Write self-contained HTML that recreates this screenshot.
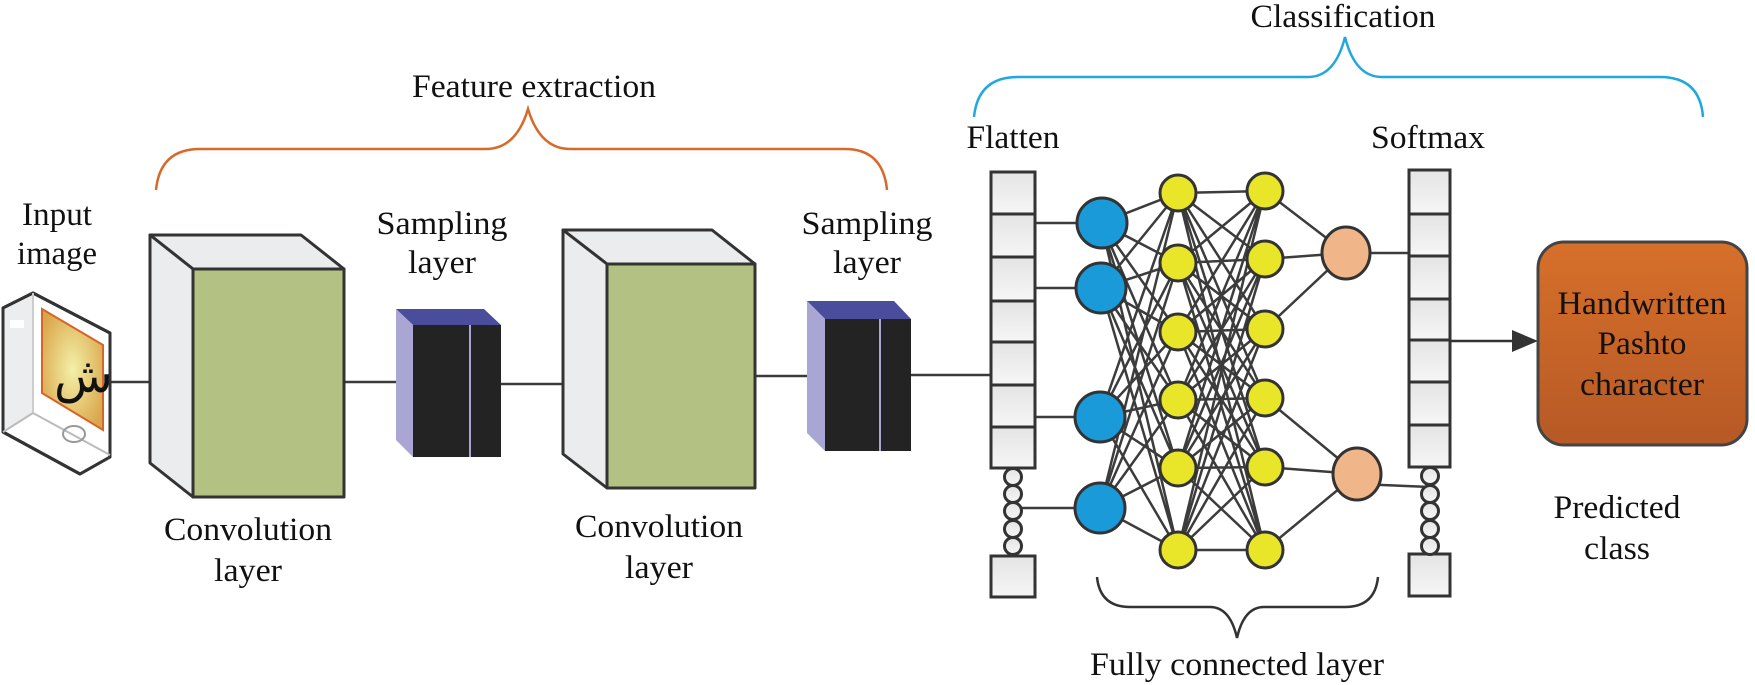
<!DOCTYPE html>
<html><head><meta charset="utf-8"><style>
html,body{margin:0;padding:0;background:#fff;}
svg{display:block;}
text{font-family:"Liberation Serif",serif;font-size:33px;fill:#111;}
</style></head><body>
<svg width="1755" height="685" viewBox="0 0 1755 685" xmlns="http://www.w3.org/2000/svg">
<defs>
<radialGradient id="pan" cx="0.5" cy="0.5" r="0.6"><stop offset="0" stop-color="#f4f0a8"/><stop offset="1" stop-color="#d9a64a"/></radialGradient>
<linearGradient id="box" x1="0" y1="0" x2="0" y2="1"><stop offset="0" stop-color="#d6702a"/><stop offset="1" stop-color="#b75926"/></linearGradient>
<linearGradient id="cell" x1="0" y1="0" x2="0" y2="1"><stop offset="0" stop-color="#e4e4e4"/><stop offset="1" stop-color="#f6f6f6"/></linearGradient>
</defs>
<g stroke="#3a3a3a" stroke-width="2.5" fill="none">
<line x1="110" y1="382" x2="150" y2="382"/>
<line x1="344" y1="382" x2="404" y2="382"/>
<line x1="494" y1="384" x2="563" y2="384"/>
<line x1="755" y1="376" x2="815" y2="376"/>
<line x1="911" y1="375" x2="991" y2="375"/>
</g>
<g stroke="#333" stroke-width="3" stroke-linejoin="round">
<polygon points="3,308 33,293 110,333 110,457 80,474 3,432" fill="#fff"/>
<polygon points="3,308 33,293 33,413 3,432" fill="#ecedef" stroke-width="0"/>
<polygon points="3,308 33,293 110,333 110,457 80,474 3,432" fill="none"/>
</g>
<line x1="33" y1="293" x2="33" y2="413" stroke="#ccc" stroke-width="2"/>
<line x1="33" y1="413" x2="110" y2="455" stroke="#bbb" stroke-width="2"/>
<line x1="33" y1="413" x2="3" y2="432" stroke="#bbb" stroke-width="2"/>
<rect x="10" y="320" width="14" height="8" fill="#fff" opacity=".9"/>
<polygon points="42,309 103,345 103,430 42,393" fill="url(#pan)" stroke="#d8642a" stroke-width="2"/>
<text x="54" y="392" style="font-size:48px;font-family:'DejaVu Serif','DejaVu Sans',serif">ش</text>
<ellipse cx="74" cy="434" rx="11" ry="8" fill="none" stroke="#999" stroke-width="2"/>
<g stroke="#333" stroke-width="3" stroke-linejoin="round">
<polygon points="150,235 301,235 344,269 193,269" fill="#ebecee"/>
<polygon points="150,235 193,269 193,497 150,463" fill="#ebecee"/>
<rect x="193" y="269" width="151" height="228" fill="#b3c283"/>
</g>
<polygon points="396,309 484,309 501,325 413,325" fill="#4a4c9c"/>
<polygon points="396,309 413,325 413,457 396,440" fill="#aaa6d4"/>
<rect x="413" y="325" width="88" height="132" fill="#232323"/>
<line x1="470" y1="325" x2="470" y2="457" stroke="#a9a5d6" stroke-width="2"/>
<g stroke="#333" stroke-width="3" stroke-linejoin="round">
<polygon points="563,230 712,230 755,264 607,264" fill="#ebecee"/>
<polygon points="563,230 607,264 607,488 563,454" fill="#ebecee"/>
<rect x="607" y="264" width="148" height="224" fill="#b3c283"/>
</g>
<polygon points="807,301 894,301 911,319 825,319" fill="#4a4c9c"/>
<polygon points="807,301 825,319 825,451 807,433" fill="#aaa6d4"/>
<rect x="825" y="319" width="86" height="132" fill="#232323"/>
<line x1="880" y1="319" x2="880" y2="451" stroke="#a9a5d6" stroke-width="2"/>
<path d="M156,190 Q160,149 200,149 L486,149 Q516,149 528,109 Q540,149 570,149 L845,149 Q883,149 887,190" fill="none" stroke="#d8692a" stroke-width="2.5"/>
<path d="M974,117 Q978,77 1018,77 L1308,77 Q1335,77 1345,37 Q1355,77 1382,77 L1660,77 Q1700,77 1703,117" fill="none" stroke="#1ea7e0" stroke-width="2.5"/>
<path d="M1097,577 Q1100,607 1130,607 L1210,607 Q1230,607 1237,638 Q1244,607 1264,607 L1345,607 Q1375,607 1378,577" fill="none" stroke="#333" stroke-width="2.5"/>
<g stroke="#3c3c3c" stroke-width="2.5">
<line x1="1035" y1="223" x2="1100" y2="223"/>
<line x1="1035" y1="288" x2="1100" y2="288"/>
<line x1="1035" y1="417" x2="1100" y2="417"/>
<line x1="1022" y1="508" x2="1100" y2="508"/>
<path d="M1101,223 L1178,193 M1101,223 L1178,263 M1101,223 L1178,332 M1101,223 L1178,400 M1101,223 L1178,468 M1101,223 L1178,550
M1101,288 L1178,193 M1101,288 L1178,263 M1101,288 L1178,332 M1101,288 L1178,400 M1101,288 L1178,468 M1101,288 L1178,550
M1100,417 L1178,193 M1100,417 L1178,263 M1100,417 L1178,332 M1100,417 L1178,400 M1100,417 L1178,468 M1100,417 L1178,550
M1100,508 L1178,193 M1100,508 L1178,263 M1100,508 L1178,332 M1100,508 L1178,400 M1100,508 L1178,468 M1100,508 L1178,550"/>
<path d="M1178,193 L1265,191 M1178,193 L1265,259 M1178,193 L1265,329 M1178,193 L1265,398 M1178,193 L1265,467 M1178,193 L1265,550
M1178,263 L1265,191 M1178,263 L1265,259 M1178,263 L1265,329 M1178,263 L1265,398 M1178,263 L1265,467 M1178,263 L1265,550
M1178,332 L1265,191 M1178,332 L1265,259 M1178,332 L1265,329 M1178,332 L1265,398 M1178,332 L1265,467 M1178,332 L1265,550
M1178,400 L1265,191 M1178,400 L1265,259 M1178,400 L1265,329 M1178,400 L1265,398 M1178,400 L1265,467 M1178,400 L1265,550
M1178,468 L1265,191 M1178,468 L1265,259 M1178,468 L1265,329 M1178,468 L1265,398 M1178,468 L1265,467 M1178,468 L1265,550
M1178,550 L1265,191 M1178,550 L1265,259 M1178,550 L1265,329 M1178,550 L1265,398 M1178,550 L1265,467 M1178,550 L1265,550"/>
<path d="M1265,191 L1346,253 M1265,259 L1346,253 M1265,329 L1346,253 M1265,398 L1357,474 M1265,467 L1357,474 M1265,550 L1357,474"/>
<line x1="1346" y1="253" x2="1409" y2="253"/>
<line x1="1357" y1="484" x2="1430" y2="487"/>
</g>
<g fill="#1a9ad8" stroke="#333" stroke-width="3">
<circle cx="1102" cy="223" r="25"/><circle cx="1101" cy="288" r="25"/><circle cx="1100" cy="417" r="25"/><circle cx="1100" cy="508" r="25"/>
</g>
<g fill="#e9e62a" stroke="#333" stroke-width="3">
<circle cx="1178" cy="193" r="18"/><circle cx="1178" cy="263" r="18"/><circle cx="1178" cy="332" r="18"/><circle cx="1178" cy="400" r="18"/><circle cx="1178" cy="468" r="18"/><circle cx="1178" cy="550" r="18"/>
<circle cx="1265" cy="191" r="18"/><circle cx="1265" cy="259" r="18"/><circle cx="1265" cy="329" r="18"/><circle cx="1265" cy="398" r="18"/><circle cx="1265" cy="467" r="18"/><circle cx="1265" cy="550" r="18"/>
</g>
<g fill="#f1b58a" stroke="#333" stroke-width="3">
<ellipse cx="1346" cy="253" rx="24" ry="26"/><ellipse cx="1357" cy="474" rx="24" ry="26"/>
</g>
<g stroke="#333" stroke-width="3" fill="url(#cell)">
<rect x="991" y="172" width="44" height="42"/><rect x="991" y="214" width="44" height="43"/><rect x="991" y="257" width="44" height="44"/><rect x="991" y="301" width="44" height="41"/><rect x="991" y="342" width="44" height="43"/><rect x="991" y="385" width="44" height="42"/><rect x="991" y="427" width="44" height="41"/>
<rect x="991" y="556" width="44" height="41"/>
<circle cx="1013" cy="477" r="8.5"/><circle cx="1013" cy="494" r="8.5"/><circle cx="1013" cy="511" r="8.5"/><circle cx="1013" cy="529" r="8.5"/><circle cx="1013" cy="546" r="8.5"/>
<rect x="1409" y="170" width="41" height="44"/><rect x="1409" y="214" width="41" height="42"/><rect x="1409" y="256" width="41" height="43"/><rect x="1409" y="299" width="41" height="41"/><rect x="1409" y="340" width="41" height="42"/><rect x="1409" y="382" width="41" height="43"/><rect x="1409" y="425" width="41" height="42"/>
<rect x="1409" y="554" width="41" height="42"/>
<circle cx="1430" cy="476" r="8.5"/><circle cx="1430" cy="494" r="8.5"/><circle cx="1430" cy="511" r="8.5"/><circle cx="1430" cy="529" r="8.5"/><circle cx="1430" cy="546" r="8.5"/>
</g>
<line x1="1450" y1="341" x2="1515" y2="341" stroke="#333" stroke-width="2.5"/>
<polygon points="1512,330 1538,341 1512,352" fill="#333"/>
<rect x="1538" y="242" width="209" height="203" rx="26" fill="url(#box)" stroke="#444" stroke-width="3"/>
<g text-anchor="middle">
<text x="57" y="225" textLength="70" lengthAdjust="spacingAndGlyphs">Input</text>
<text x="57" y="264" textLength="80" lengthAdjust="spacingAndGlyphs">image</text>
<text x="534" y="97" textLength="244" lengthAdjust="spacingAndGlyphs">Feature extraction</text>
<text x="442" y="234" textLength="131" lengthAdjust="spacingAndGlyphs">Sampling</text>
<text x="442" y="273" textLength="68" lengthAdjust="spacingAndGlyphs">layer</text>
<text x="867" y="234" textLength="131" lengthAdjust="spacingAndGlyphs">Sampling</text>
<text x="867" y="273" textLength="68" lengthAdjust="spacingAndGlyphs">layer</text>
<text x="248" y="540" textLength="168" lengthAdjust="spacingAndGlyphs">Convolution</text>
<text x="248" y="581" textLength="68" lengthAdjust="spacingAndGlyphs">layer</text>
<text x="659" y="537" textLength="168" lengthAdjust="spacingAndGlyphs">Convolution</text>
<text x="659" y="578" textLength="68" lengthAdjust="spacingAndGlyphs">layer</text>
<text x="1343" y="27" textLength="185" lengthAdjust="spacingAndGlyphs">Classification</text>
<text x="1013" y="148" textLength="93" lengthAdjust="spacingAndGlyphs">Flatten</text>
<text x="1428" y="148" textLength="114" lengthAdjust="spacingAndGlyphs">Softmax</text>
<text x="1642" y="314" textLength="169" lengthAdjust="spacingAndGlyphs">Handwritten</text>
<text x="1642" y="354" textLength="89" lengthAdjust="spacingAndGlyphs">Pashto</text>
<text x="1642" y="395" textLength="124" lengthAdjust="spacingAndGlyphs">character</text>
<text x="1617" y="518" textLength="127" lengthAdjust="spacingAndGlyphs">Predicted</text>
<text x="1617" y="559" textLength="66" lengthAdjust="spacingAndGlyphs">class</text>
<text x="1237" y="675" textLength="294" lengthAdjust="spacingAndGlyphs">Fully connected layer</text>
</g>
</svg>
</body></html>
